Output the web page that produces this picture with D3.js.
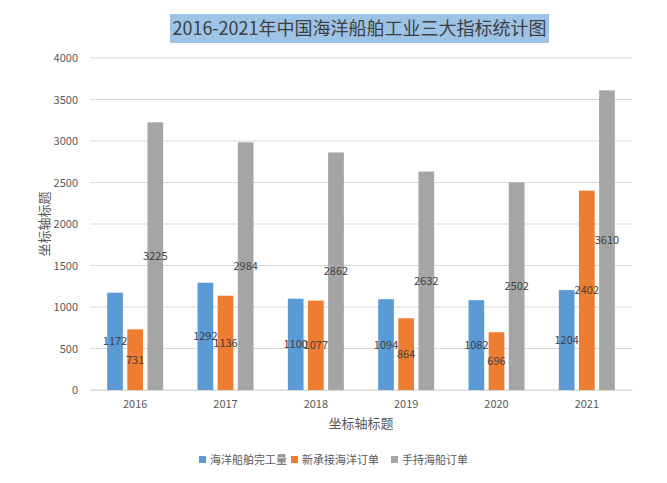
<!DOCTYPE html>
<html><head><meta charset="utf-8">
<script src="https://cdn.jsdelivr.net/npm/d3@7"></script>
<style>body{margin:0;background:#fff}text{font-family:"Noto Sans CJK SC","Noto Sans",sans-serif}</style>
</head><body><div id="wrapper"></div>
<script>
const years = ["2016", "2017", "2018", "2019", "2020", "2021"]
const seriesNames = ["海洋船舶完工量", "新承接海洋订单", "手持海船订单"]
const completed = [1172, 1292, 1100, 1094, 1082, 1204]
const newOrders = [731, 1136, 1077, 864, 696, 2402]
const holding = [3225, 2984, 2862, 2632, 2502, 3610]
const yTicks = [0, 500, 1000, 1500, 2000, 2500, 3000, 3500, 4000]
const colors = ["#5B9BD5", "#ED7D31", "#A5A5A5"]

const series = [completed, newOrders, holding]
const dims = { width: 667, height: 483, margins: { top: 58, right: 35, bottom: 93, left: 90 } }
const bw = dims.width - dims.margins.left - dims.margins.right
const bh = dims.height - dims.margins.top - dims.margins.bottom

const svg = d3.select("#wrapper").append("svg").attr("width", dims.width).attr("height", dims.height)

// title
const title = svg.append("g")
title.append("rect").attr("x", 170).attr("y", 14).attr("width", 379).attr("height", 29).attr("fill", "#9DC3E6")
title.append("text").attr("x", 359.5).attr("y", 35).attr("text-anchor", "middle")
  .attr("font-size", 18).attr("fill", "#404040").text("2016-2021年中国海洋船舶工业三大指标统计图")

const bounds = svg.append("g").attr("transform", `translate(${dims.margins.left},${dims.margins.top})`)

const x = d3.scaleBand().domain(years).range([0, bw]).paddingInner(0.38).paddingOuter(0.19)
const xs = d3.scaleBand().domain(d3.range(3)).range([0, x.bandwidth()]).paddingInner(0.22)
const y = d3.scaleLinear().domain([0, 4000]).range([bh, 0])

bounds.append("g").selectAll("line").data(yTicks).join("line")
  .attr("x1", 0).attr("x2", bw).attr("y1", d => y(d)).attr("y2", d => y(d))
  .attr("stroke", "#d9d9d9")

const yAxis = bounds.append("g").call(d3.axisLeft(y).tickValues(yTicks).tickFormat(d3.format("d")).tickSize(0).tickPadding(12))
yAxis.select(".domain").remove()
yAxis.selectAll("text").attr("font-size", 11).attr("fill", "#595959")

const xAxis = bounds.append("g").attr("transform", `translate(0,${bh})`)
  .call(d3.axisBottom(x).tickSize(0).tickPadding(10))
xAxis.select(".domain").attr("stroke", "#d9d9d9")
xAxis.selectAll("text").attr("font-size", 11).attr("fill", "#595959")

const groups = bounds.append("g").selectAll("g").data(years).join("g")
  .attr("transform", d => `translate(${x(d)},0)`)
series.forEach((s, i) => {
  groups.append("rect")
    .attr("x", xs(i)).attr("width", xs.bandwidth())
    .attr("y", (d, j) => y(s[j])).attr("height", (d, j) => bh - y(s[j]))
    .attr("fill", colors[i])
  groups.append("text")
    .attr("x", xs(i) + xs.bandwidth() / 2).attr("y", (d, j) => y(s[j] / 2) + 4)
    .attr("text-anchor", "middle").attr("font-size", 11).attr("fill", "#404040")
    .text((d, j) => s[j])
})

svg.append("text").attr("x", dims.margins.left + bw / 2).attr("y", 428).attr("text-anchor", "middle")
  .attr("font-size", 13).attr("fill", "#595959").text("坐标轴标题")
svg.append("text").attr("transform", `translate(49,${dims.margins.top + bh / 2}) rotate(-90)`)
  .attr("text-anchor", "middle").attr("font-size", 13).attr("fill", "#595959").text("坐标轴标题")

// legend
const legendX = [199, 291, 391]
const legend = svg.append("g").selectAll("g").data(seriesNames).join("g")
  .attr("transform", (d, i) => `translate(${legendX[i]},460)`)
legend.append("rect").attr("x", 0).attr("y", -4).attr("width", 7).attr("height", 7).attr("fill", (d, i) => colors[i])
legend.append("text").attr("x", 11).attr("y", 4).attr("font-size", 11).attr("fill", "#595959").text(d => d)
</script></body></html>
